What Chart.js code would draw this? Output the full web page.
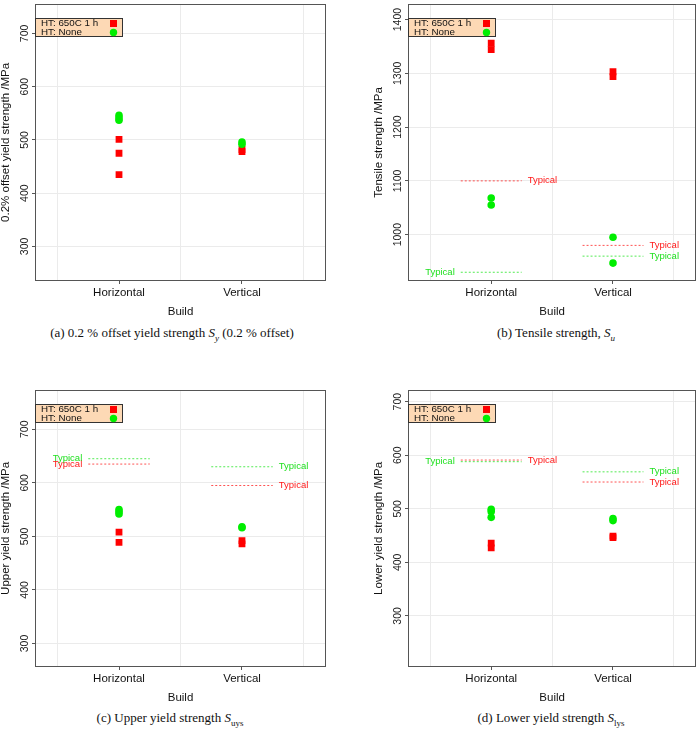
<!DOCTYPE html>
<html lang="en">
<head>
<meta charset="UTF-8">
<title>Strength by build direction</title>
<script src="https://cdn.jsdelivr.net/npm/chart.js@4.4.1/dist/chart.umd.min.js"></script>
<style>
  body { margin: 0; background: #fff; }
  #page { position: relative; width: 700px; height: 744px; overflow: hidden; }
  .panel { position: absolute; width: 350px; height: 320px; }
  .caption {
    position: absolute; width: 400px; text-align: center;
    font-family: 'Liberation Serif', 'Times New Roman', serif;
    font-size: 13px; line-height: 14px; color: #111;
  }
  .caption sub { font-size: 9px; line-height: 0; }
</style>
</head>
<body>
<div id="page">
  <div class="panel" style="left:0;top:0"><canvas id="chart-sy"></canvas></div>
  <div class="panel" style="left:350px;top:0"><canvas id="chart-su"></canvas></div>
  <div class="panel" style="left:0;top:386px"><canvas id="chart-suys"></canvas></div>
  <div class="panel" style="left:350px;top:386px"><canvas id="chart-slys"></canvas></div>

  <div class="caption" style="left:-28px;top:326px">(a) 0.2 % offset yield strength <i>S</i><sub><i>y</i></sub> (0.2 % offset)</div>
  <div class="caption" style="left:356px;top:326px">(b) Tensile strength, <i>S</i><sub><i>u</i></sub></div>
  <div class="caption" style="left:-30px;top:711px">(c) Upper yield strength <i>S</i><sub>uys</sub></div>
  <div class="caption" style="left:351px;top:711px">(d) Lower yield strength <i>S</i><sub>lys</sub></div>
</div>
<script>
const builds = ['Horizontal', 'Vertical'];
const legendLabels = ['HT: 650C 1 h', 'HT: None'];

// values per build: [Horizontal, Vertical]
const syHT = [[501, 475, 435], [478, 482]];
const syNone = [[546, 541, 537], [496, 492]];

const suHT = [[1356, 1344], [1303, 1294]];
const suNone = [[1068, 1055], [995, 947]];
const suTypHT = [1100, 980];
const suTypNone = [930, 960];

const suysHT = [[508, 489], [492, 486]];
const suysNone = [[550, 546, 542], [518, 516]];
const suysTypHT = [635, 595];
const suysTypNone = [645, 630];

const slysHT = [[436, 427], [449, 446]];
const slysNone = [[499, 495, 484], [482, 478]];
const slysTypHT = [591, 550];
const slysTypNone = [588, 569];

const RED = '#ff0000';
const GREEN = '#00ee00';
const FONT = "'Liberation Sans', Arial, sans-serif";

Chart.defaults.font.family = FONT;
Chart.defaults.color = '#111';

function points(groups) {
    return groups.flatMap((vals, i) => vals.map(v => ({ x: i + 1, y: v })));
}

function typicalSets(values, sides, lineColor, textColor) {
    if (!values) return [];
    return values.map((v, i) => ({
        data: [{ x: i + 0.75, y: v }, { x: i + 1.25, y: v }],
        showLine: true,
        borderColor: lineColor,
        borderWidth: 1,
        borderDash: [2, 2],
        pointRadius: 0,
        typical: sides[i],
        labelColor: textColor
    }));
}

// plot frame
const framePlugin = {
    id: 'frame',
    beforeDatasetsDraw(chart) {
        const { ctx, chartArea: a } = chart;
        ctx.save();
        ctx.strokeStyle = '#555';
        ctx.lineWidth = 1;
        ctx.strokeRect(Math.round(a.left) - 0.5, Math.round(a.top) - 0.5,
            Math.round(a.width) + 1, Math.round(a.height) + 1);
        ctx.restore();
    }
};

// y tick labels turned on their side, like the original
const yLabelPlugin = {
    id: 'yLabels',
    afterDraw(chart) {
        const { ctx, scales } = chart;
        const ys = scales.y;
        ctx.save();
        ctx.font = '10.5px ' + FONT;
        ctx.fillStyle = '#222';
        ctx.textAlign = 'center';
        ctx.textBaseline = 'alphabetic';
        ys.ticks.forEach(t => {
            ctx.save();
            ctx.translate(ys.right - 8, ys.getPixelForValue(t.value));
            ctx.rotate(-Math.PI / 2);
            ctx.fillText(String(t.value), 0, 0);
            ctx.restore();
        });
        ctx.restore();
    }
};

// "Typical" text at the end of each dashed line
const typicalPlugin = {
    id: 'typicalLabels',
    afterDatasetsDraw(chart) {
        const { ctx, scales } = chart;
        ctx.save();
        ctx.font = '9.5px ' + FONT;
        ctx.textBaseline = 'middle';
        chart.data.datasets.forEach(ds => {
            if (!ds.typical) return;
            const y = scales.y.getPixelForValue(ds.data[0].y);
            ctx.fillStyle = ds.labelColor;
            if (ds.typical === 'right') {
                ctx.textAlign = 'left';
                ctx.fillText('Typical', scales.x.getPixelForValue(ds.data[1].x) + 6, y);
            } else {
                ctx.textAlign = 'right';
                ctx.fillText('Typical', scales.x.getPixelForValue(ds.data[0].x) - 6, y);
            }
        });
        ctx.restore();
    }
};

// key box in the top left corner
const keyPlugin = {
    id: 'keyBox',
    afterDatasetsDraw(chart) {
        const { ctx, chartArea: a } = chart;
        const x = Math.round(a.left), y = Math.round(a.top) + 13, w = 87, h = 19;
        ctx.save();
        ctx.fillStyle = '#fdd9b5';
        ctx.fillRect(x, y, w, h);
        ctx.strokeStyle = '#333';
        ctx.lineWidth = 1;
        ctx.strokeRect(x - 0.5, y + 0.5, w, h - 1);
        ctx.font = '9.8px ' + FONT;
        ctx.fillStyle = '#111';
        ctx.textBaseline = 'middle';
        ctx.textAlign = 'left';
        ctx.fillText(legendLabels[0], x + 5, y + 5);
        ctx.fillText(legendLabels[1], x + 5, y + 14);
        ctx.fillStyle = RED;
        ctx.fillRect(x + 74, y + 2, 7, 7);
        ctx.fillStyle = GREEN;
        ctx.beginPath();
        ctx.arc(x + 77.5, y + 14.5, 3.7, 0, Math.PI * 2);
        ctx.fill();
        ctx.restore();
    }
};

function makeChart(id, cfg) {
    const datasets = [
        {
            data: points(cfg.none),
            pointStyle: 'circle', pointRadius: 3.8, pointHoverRadius: 3.8,
            backgroundColor: GREEN, borderWidth: 0
        },
        {
            data: points(cfg.ht),
            pointStyle: 'rect', pointRadius: 4.8, pointHoverRadius: 4.8,
            backgroundColor: RED, borderWidth: 0
        },
        ...typicalSets(cfg.typHT, cfg.sideHT || [], 'rgba(255,40,40,0.8)', '#ff1a1a'),
        ...typicalSets(cfg.typNone, cfg.sideNone || [], 'rgba(40,230,40,0.8)', '#22e022')
    ];

    return new Chart(document.getElementById(id), {
        type: 'scatter',
        data: { datasets },
        plugins: [framePlugin, typicalPlugin, keyPlugin, yLabelPlugin],
        options: {
            responsive: true,
            maintainAspectRatio: false,
            animation: false,
            layout: { padding: { left: cfg.padLeft, top: 1, right: cfg.padRight, bottom: 0 } },
            plugins: { legend: { display: false }, tooltip: { enabled: false } },
            scales: {
                x: {
                    type: 'linear',
                    min: 0.325,
                    max: 2.675,
                    afterBuildTicks: s => { s.ticks = [0.5, 1, 1.5, 2, 2.5].map(v => ({ value: v })); },
                    afterFit: s => { s.height = 40; s.paddingLeft = 0; s.paddingRight = 0; },
                    border: { display: false },
                    grid: {
                        color: c => (c.tick && Number.isInteger(c.tick.value)) ? 'rgba(0,0,0,0)' : '#ebebeb',
                        tickColor: c => (c.tick && Number.isInteger(c.tick.value)) ? '#555' : 'rgba(0,0,0,0)',
                        tickLength: 4
                    },
                    ticks: {
                        autoSkip: false,
                        maxRotation: 0,
                        padding: 2,
                        font: { size: 11.5 },
                        callback: v => Number.isInteger(v) ? builds[v - 1] : ''
                    },
                    title: { display: true, text: 'Build', font: { size: 11.5 }, padding: { top: 0, bottom: 1 } }
                },
                y: {
                    type: 'linear',
                    min: cfg.yMin,
                    max: cfg.yMax,
                    afterBuildTicks: s => { s.ticks = s.ticks.filter(t => t.value % 100 === 0); },
                    afterFit: s => { s.width = 36; s.paddingTop = 0; s.paddingBottom = 0; },
                    border: { display: false },
                    grid: { color: '#ebebeb', tickColor: '#555', tickLength: 4 },
                    ticks: {
                        stepSize: 100,
                        includeBounds: false,
                        autoSkip: false,
                        display: false
                    },
                    title: { display: true, text: cfg.title, font: { size: 11.5 }, padding: { top: -1, bottom: 0 } }
                }
            }
        }
    });
}

makeChart('chart-sy', {
    title: '0.2% offset yield strength /MPa',
    yMin: 237, yMax: 753.7,
    ht: syHT, none: syNone,
    padLeft: 0, padRight: 25
});

makeChart('chart-su', {
    title: 'Tensile strength /MPa',
    yMin: 915.6, yMax: 1427.5,
    ht: suHT, none: suNone,
    typHT: suTypHT, sideHT: ['right', 'right'],
    typNone: suTypNone, sideNone: ['left', 'right'],
    padLeft: 23, padRight: 2
});

makeChart('chart-suys', {
    title: 'Upper yield strength /MPa',
    yMin: 258, yMax: 771.8,
    ht: suysHT, none: suysNone,
    typHT: suysTypHT, sideHT: ['left', 'right'],
    typNone: suysTypNone, sideNone: ['left', 'right'],
    padLeft: 0, padRight: 25
});

makeChart('chart-slys', {
    title: 'Lower yield strength /MPa',
    yMin: 206.5, yMax: 720.3,
    ht: slysHT, none: slysNone,
    typHT: slysTypHT, sideHT: ['right', 'right'],
    typNone: slysTypNone, sideNone: ['left', 'right'],
    padLeft: 23, padRight: 2
});
</script>
</body>
</html>
